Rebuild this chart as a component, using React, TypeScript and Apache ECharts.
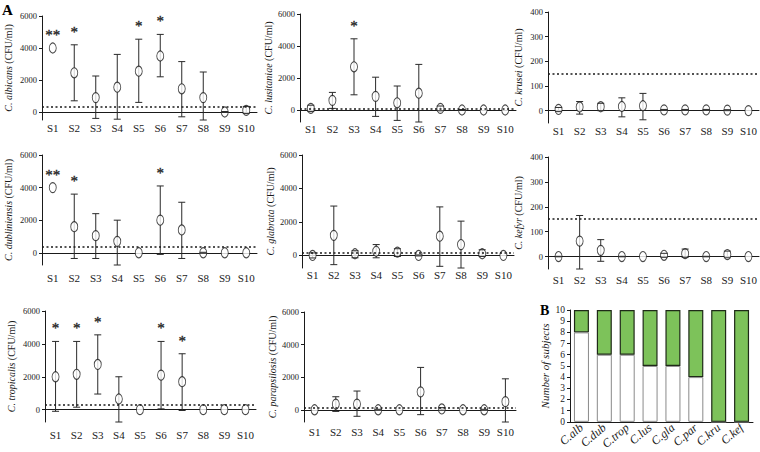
import React, { useEffect, useRef } from "react";
import * as echarts from "echarts";

// ---------- data ----------
const subjects = ["S1", "S2", "S3", "S4", "S5", "S6", "S7", "S8", "S9", "S10"];
const cfuTicks = [0, 2000, 4000, 6000];
const smallTicks = [0, 100, 200, 300, 400];

const albicansMean = [4000, 2450, 900, 1550, 2550, 3500, 1450, 900, 0, 100];
const albicansLow = [4000, 700, -400, -450, 600, 2200, -300, -500, -30, -100];
const albicansHigh = [4000, 4200, 2250, 3600, 4550, 4850, 3150, 2500, 30, 350];
const albicansStars = ["**", "*", "", "", "*", "*", "", "", "", ""];

const lusitaniaeMean = [100, 600, 2700, 850, 450, 1050, 100, 0, 0, 0];
const lusitaniaeLow = [-100, 100, 950, -400, -650, -750, -50, -30, 0, 0];
const lusitaniaeHigh = [300, 1100, 4450, 2050, 1500, 2850, 250, 30, 0, 0];
const lusitaniaeStars = ["", "", "*", "", "", "", "", "", "", ""];

const kruseiMean = [5, 15, 16, 17, 20, 3, 3, 3, 2, 0];
const kruseiLow = [-4, -14, 0, -25, -37, 1, 1, 1, 0, 0];
const kruseiHigh = [13, 37, 30, 52, 70, 5, 5, 5, 4, 0];

const dubliniensisMean = [4000, 1600, 1050, 700, 0, 2000, 1400, 0, 0, 0];
const dubliniensisLow = [4000, -350, -350, -750, 0, -100, -350, -30, 0, 0];
const dubliniensisHigh = [4000, 3600, 2400, 2000, 0, 4100, 3100, 30, 0, 0];
const dubliniensisStars = ["**", "*", "", "", "", "*", "", "", "", ""];

const glabrataMean = [0, 1200, 100, 250, 200, 0, 1150, 650, 100, 0];
const glabrataLow = [-150, -550, -140, -140, -60, -30, -650, -750, -60, 0];
const glabrataHigh = [150, 2950, 280, 650, 400, 30, 2900, 2050, 340, 0];

const kefyrMean = [0, 62, 25, 0, 0, 5, 12, 0, 8, 0];
const kefyrLow = [-1, -50, -19, -1, 0, -3, -3, -1, -5, 0];
const kefyrHigh = [1, 165, 68, 1, 0, 13, 30, 1, 22, 0];

const tropicalisMean = [2000, 2150, 2750, 650, 0, 2100, 1700, 0, 0, 0];
const tropicalisLow = [-100, 150, 950, -750, 0, 50, -50, 0, 0, 0];
const tropicalisHigh = [4150, 4150, 4550, 2000, 0, 4150, 3400, 0, 0, 0];
const tropicalisStars = ["*", "*", "*", "", "", "*", "*", "", "", ""];

const parapsilosisMean = [0, 350, 350, 0, 0, 1100, 50, 0, 0, 500];
const parapsilosisLow = [0, -100, -400, -30, 0, -300, -30, 0, -30, -750];
const parapsilosisHigh = [0, 800, 1150, 30, 0, 2600, 130, 0, 30, 1900];

const noStars = ["", "", "", "", "", "", "", "", "", ""];

const speciesB = ["C.alb", "C.dub", "C.trop", "C.lus", "C.gla", "C.par", "C.kru", "C.kef"];
const belowThresholdB = [8, 6, 6, 5, 5, 4, 0, 0];
const aboveThresholdB = [2, 4, 4, 5, 5, 6, 10, 10];
const countTicksB = [0, 1, 2, 3, 4, 5, 6, 7, 8, 9, 10];

// ---------- panels ----------
type Panel = {
  species: string;
  mean: number[];
  low: number[];
  high: number[];
  stars: string[];
  threshold: number;
  min: number;
  max: number;
  ticks: number[];
  grid: { left: number; top: number; width: number; height: number };
  labelMargin: number;
  nameGap: number;
};

const panels: Panel[] = [
  { species: "C. albicans", mean: albicansMean, low: albicansLow, high: albicansHigh, stars: albicansStars, threshold: 350, min: -500, max: 6000, ticks: cfuTicks, grid: { left: 42, top: 16, width: 215, height: 104 }, labelMargin: 2, nameGap: 29 },
  { species: "C. lusitaniae", mean: lusitaniaeMean, low: lusitaniaeLow, high: lusitaniaeHigh, stars: lusitaniaeStars, threshold: 100, min: -750, max: 6000, ticks: cfuTicks, grid: { left: 300, top: 14, width: 216, height: 108 }, labelMargin: 1, nameGap: 27 },
  { species: "C. krusei", mean: kruseiMean, low: kruseiLow, high: kruseiHigh, stars: noStars, threshold: 150, min: -50, max: 400, ticks: smallTicks, grid: { left: 548, top: 12, width: 211, height: 111 }, labelMargin: 2, nameGap: 25 },
  { species: "C. dubliniensis", mean: dubliniensisMean, low: dubliniensisLow, high: dubliniensisHigh, stars: dubliniensisStars, threshold: 350, min: -750, max: 6000, ticks: cfuTicks, grid: { left: 42, top: 155, width: 215, height: 110 }, labelMargin: 7, nameGap: 29 },
  { species: "C. glabrata", mean: glabrataMean, low: glabrataLow, high: glabrataHigh, stars: noStars, threshold: 150, min: -750, max: 6000, ticks: cfuTicks, grid: { left: 302, top: 155, width: 212, height: 113 }, labelMargin: 1, nameGap: 27 },
  { species: "C. kefyr", mean: kefyrMean, low: kefyrLow, high: kefyrHigh, stars: noStars, threshold: 150, min: -50, max: 400, ticks: smallTicks, grid: { left: 548, top: 157, width: 211, height: 112 }, labelMargin: 5, nameGap: 25 },
  { species: "C. tropicalis", mean: tropicalisMean, low: tropicalisLow, high: tropicalisHigh, stars: tropicalisStars, threshold: 300, min: -750, max: 6000, ticks: cfuTicks, grid: { left: 45, top: 311, width: 211, height: 111 }, labelMargin: 7, nameGap: 29 },
  { species: "C. parapsilosis", mean: parapsilosisMean, low: parapsilosisLow, high: parapsilosisHigh, stars: noStars, threshold: 150, min: -750, max: 6000, ticks: cfuTicks, grid: { left: 304, top: 312, width: 212, height: 110 }, labelMargin: 4, nameGap: 27 },
];

const FONT = "Liberation Serif";
const INK = "#1a1a1a";
const GREEN = "#7dc25a";

function clampY(y: number, cs: any) {
  return Math.max(cs.y, Math.min(cs.y + cs.height, y));
}

const plainNumber = (v: number) => String(v);

function buildOption() {
  const grids: any[] = [];
  const xAxes: any[] = [];
  const yAxes: any[] = [];
  const series: any[] = [];

  panels.forEach((p, i) => {
    grids.push({ ...p.grid, containLabel: false });
    xAxes.push({
      type: "category",
      gridIndex: i,
      data: subjects,
      boundaryGap: true,
      axisLine: { lineStyle: { color: INK, width: 1 } },
      axisTick: { show: false },
      axisLabel: { color: INK, fontFamily: FONT, fontSize: 11, margin: p.labelMargin, interval: 0 },
      splitLine: { show: false },
    });
    yAxes.push({
      type: "value",
      gridIndex: i,
      min: p.min,
      max: p.max,
      name: `{i|${p.species}} (CFU/ml)`,
      nameLocation: "middle",
      nameGap: p.nameGap,
      nameTextStyle: {
        color: INK,
        fontFamily: FONT,
        fontSize: 10,
        rich: { i: { fontStyle: "italic", fontFamily: FONT, fontSize: 10, color: INK } },
      },
      axisLine: { show: true, lineStyle: { color: INK, width: 1 } },
      axisTick: { show: true, length: 3, customValues: p.ticks, lineStyle: { color: INK } },
      axisLabel: { color: INK, fontFamily: FONT, fontSize: 8.5, margin: 5, customValues: p.ticks, formatter: plainNumber },
      splitLine: { show: false },
    });

    const barData = p.mean.map((_, j) => [j, p.low[j], p.high[j]]);

    // vertical part of error bars (behind circles)
    series.push({
      type: "custom",
      xAxisIndex: i,
      yAxisIndex: i,
      z: 2,
      silent: true,
      data: barData,
      renderItem: (params: any, api: any) => {
        const lo = api.value(1);
        const hi = api.value(2);
        if (lo === hi) return null;
        const cs = params.coordSys;
        const a = api.coord([api.value(0), hi]);
        const b = api.coord([api.value(0), lo]);
        return {
          type: "line",
          shape: { x1: a[0], y1: clampY(a[1], cs), x2: b[0], y2: clampY(b[1], cs) },
          style: { stroke: "#2a2a2a", lineWidth: 1 },
        };
      },
    });

    // mean points
    series.push({
      type: "scatter",
      xAxisIndex: i,
      yAxisIndex: i,
      z: 3,
      symbol: "circle",
      symbolSize: [7, 10],
      itemStyle: { color: "#ffffff", borderColor: INK, borderWidth: 1 },
      data: p.mean.map((v, j) => [j, v]),
      markLine: {
        silent: true,
        symbol: "none",
        label: { show: false },
        lineStyle: { type: [2, 2.5], color: INK, width: 1.6 },
        data: [{ yAxis: p.threshold }],
      },
    });

    // caps (on top of circles)
    series.push({
      type: "custom",
      xAxisIndex: i,
      yAxisIndex: i,
      z: 4,
      silent: true,
      data: barData,
      renderItem: (params: any, api: any) => {
        const lo = api.value(1);
        const hi = api.value(2);
        if (lo === hi) return null;
        const cs = params.coordSys;
        const a = api.coord([api.value(0), hi]);
        const b = api.coord([api.value(0), lo]);
        const w = 3.5;
        const ya = clampY(a[1], cs);
        const yb = clampY(b[1], cs);
        return {
          type: "group",
          children: [
            { type: "line", shape: { x1: a[0] - w, y1: ya, x2: a[0] + w, y2: ya }, style: { stroke: "#2a2a2a", lineWidth: 1 } },
            { type: "line", shape: { x1: b[0] - w, y1: yb, x2: b[0] + w, y2: yb }, style: { stroke: "#2a2a2a", lineWidth: 1 } },
          ],
        };
      },
    });

    // significance stars
    const starData = p.stars
      .map((s, j) => (s ? [j, Math.max(p.high[j], p.mean[j]), s] : null))
      .filter((d) => d !== null);
    if (starData.length) {
      series.push({
        type: "custom",
        xAxisIndex: i,
        yAxisIndex: i,
        z: 5,
        silent: true,
        data: starData,
        renderItem: (params: any, api: any) => {
          const pt = api.coord([api.value(0), api.value(1)]);
          const txt = starData[params.dataIndex][2] as string;
          return {
            type: "text",
            x: pt[0],
            y: pt[1] - 13,
            style: {
              text: txt,
              fontFamily: FONT,
              fontSize: 15,
              fill: "#222222",
              stroke: "#222222",
              lineWidth: 0.3,
              align: "center",
              verticalAlign: "middle",
            },
          };
        },
      });
    }
  });

  // Panel B
  const bi = panels.length;
  grids.push({ left: 570, top: 310, width: 183, height: 112, containLabel: false });
  xAxes.push({
    type: "category",
    gridIndex: bi,
    data: speciesB,
    boundaryGap: true,
    axisLine: { lineStyle: { color: INK, width: 1 } },
    axisTick: { show: false },
    axisLabel: {
      color: INK,
      fontFamily: FONT,
      fontStyle: "italic",
      fontSize: 12,
      rotate: 40,
      margin: 4,
      interval: 0,
    },
  });
  yAxes.push({
    type: "value",
    gridIndex: bi,
    min: 0,
    max: 10,
    name: "Number of subjects",
    nameLocation: "middle",
    nameGap: 20,
    nameTextStyle: { color: INK, fontFamily: FONT, fontStyle: "italic", fontSize: 11 },
    axisLine: { show: true, lineStyle: { color: INK, width: 1 } },
    axisTick: { show: true, length: 3, customValues: countTicksB, lineStyle: { color: INK } },
    axisLabel: { color: INK, fontFamily: FONT, fontSize: 9.5, margin: 5, customValues: countTicksB, formatter: plainNumber },
    splitLine: { show: false },
  });
  series.push({
    type: "bar",
    xAxisIndex: bi,
    yAxisIndex: bi,
    stack: "subjects",
    barWidth: 15,
    data: belowThresholdB,
    itemStyle: { color: "#ffffff", borderColor: "#8a8a8a", borderWidth: 1 },
  });
  series.push({
    type: "bar",
    xAxisIndex: bi,
    yAxisIndex: bi,
    stack: "subjects",
    barWidth: 15,
    data: aboveThresholdB,
    itemStyle: { color: GREEN, borderColor: "#1f2a18", borderWidth: 1.2 },
  });

  return {
    animation: false,
    backgroundColor: "#ffffff",
    grid: grids,
    xAxis: xAxes,
    yAxis: yAxes,
    series,
    graphic: [
      { type: "text", left: 2, top: 2, style: { text: "A", fontFamily: FONT, fontWeight: "bold", fontSize: 15, fill: "#000" } },
      { type: "text", left: 540, top: 303, style: { text: "B", fontFamily: FONT, fontWeight: "bold", fontSize: 14, fill: "#000" } },
    ],
  };
}

export default function App() {
  const ref = useRef<HTMLDivElement>(null);
  useEffect(() => {
    if (!ref.current) return;
    const chart = echarts.init(ref.current, null, { renderer: "svg" });
    chart.setOption(buildOption() as any);
    return () => chart.dispose();
  }, []);
  return (
    <div
      ref={ref}
      style={{ position: "fixed", left: 0, top: 0, width: 760, height: 452, background: "#fff" }}
    />
  );
}
